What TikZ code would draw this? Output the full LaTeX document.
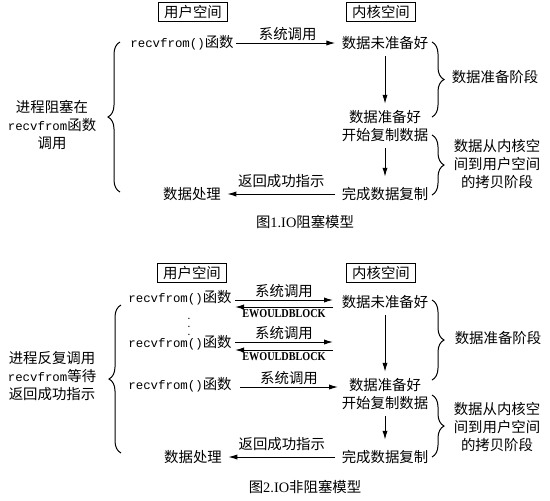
\documentclass[tikz,border=0pt]{standalone}
\usepackage{fontspec}
\usepackage{graphicx}
\setmainfont{Noto Sans CJK SC}
\setmonofont{Liberation Mono}
\newfontfamily\latinfont{Liberation Serif}
\usetikzlibrary{arrows.meta,decorations.pathreplacing}

\newcommand{\rf}{{\ttfamily\fontsize{6.2}{9}\selectfont recvfrom()}}
\newcommand{\rfname}{{\ttfamily\fontsize{6.2}{9}\selectfont recvfrom}}
\newcommand{\ewb}{{\latinfont\bfseries\fontsize{6}{9}\selectfont\scalebox{0.85}[1]{EWOULDBLOCK}}}

\begin{document}
\begin{tikzpicture}[
  x=0.5pt, y=-0.5pt,
  every node/.style={font=\fontsize{7.2}{9}\selectfont, inner sep=1pt},
  space/.style={draw, inner xsep=3pt, inner ysep=1.5pt},
  lbl/.style={align=center},
  brc/.style={decorate, decoration={brace, amplitude=6pt}},
  >={Latex[length=4.5pt,width=2.6pt]},
  line width=0.5pt
]
\useasboundingbox (0,0) rectangle (550,500);

% Fig 1: blocking
\node[space] (us1) at (193,12) {用户空间};
\node[space] (ks1) at (381,12) {内核空间};
\node (rf1) at (182,43) {\rf 函数};
\node (k11) at (385,43) {数据未准备好};
\node[lbl] (k12) at (385,126) {数据准备好\\开始复制数据};
\node (k13) at (385,194) {完成数据复制};
\node (dp1) at (192,194) {数据处理};
\node[lbl] (blk1) at (52,125) {进程阻塞在\\\rfname 函数\\调用};
\node[lbl] (ph11) at (495,77) {数据准备阶段};
\node[lbl] (ph12) at (497,164) {数据从内核空\\间到用户空间\\的拷贝阶段};
\node (cap1) at (305,222) {图{\latinfont 1.IO}阻塞模型};

\draw[->, shorten >=2pt] (rf1) -- node[above] (call1) {系统调用} (k11);
\draw[->, shorten <=2pt, shorten >=2pt] (k11) -- (k12);
\draw[->, shorten <=2pt, shorten >=4pt] (k12) -- (k13);
\draw[->, shorten <=2pt, shorten >=2pt] (k13) -- node[above=2pt] (ret1) {返回成功指示} (dp1);

\draw[brc] (120,192) -- (120,42);
\draw[brc] (432,42) -- (432,117);
\draw[brc] (432,135) -- (432,195);

% Fig 2: non-blocking
\node[space] (us2) at (192,273) {用户空间};
\node[space] (ks2) at (381,273) {内核空间};
\node (rf21) at (180,298) {\rf 函数};
\node[inner sep=0pt, font=\fontsize{5}{5}\selectfont] (dots) at (189,321) {$\vdots$};
\node (rf22) at (180,343) {\rf 函数};
\node (rf23) at (180,385) {\rf 函数};
\node (dp2) at (193,457) {数据处理};
\node (k21) at (385,302) {数据未准备好};
\node[lbl] (k22) at (385,394) {数据准备好\\开始复制数据};
\node (k23) at (385,457) {完成数据复制};
\node[lbl] (blk2) at (52,376) {进程反复调用\\\rfname 等待\\返回成功指示};
\node[lbl] (ph21) at (498,338) {数据准备阶段};
\node[lbl] (ph22) at (497,427) {数据从内核空\\间到用户空间\\的拷贝阶段};
\node (cap2) at (305,487) {图{\latinfont 2.IO}非阻塞模型};

\coordinate (a1) at (235,300);
\coordinate (b1) at (333,300);
\coordinate (a1r) at (235,307);
\coordinate (b1r) at (333,307);
\coordinate (a2) at (235,342);
\coordinate (b2) at (333,342);
\coordinate (a2r) at (235,350);
\coordinate (b2r) at (333,350);
\coordinate (a3) at (240,387);
\coordinate (b3) at (338,387);

\draw[->] (a1) -- node[above] (call21) {系统调用} (b1);
\draw[->] (b1r) -- node[below] (ew1) {\ewb} (a1r);
\draw[->] (a2) -- node[above] (call22) {系统调用} (b2);
\draw[->] (b2r) -- node[below] (ew2) {\ewb} (a2r);
\draw[->] (a3) -- node[above] (call23) {系统调用} (b3);
\draw[->, shorten <=2pt, shorten >=2pt] (k21) -- (k22);
\draw[->, shorten <=2pt, shorten >=4pt] (k22) -- (k23);
\draw[->, shorten <=2pt, shorten >=2pt] (k23) -- node[above=2pt] (ret2) {返回成功指示} (dp2);

\draw[brc] (121,453) -- (121,305);
\draw[brc] (432,300) -- (432,380);
\draw[brc] (432,395) -- (432,457);
\end{tikzpicture}
\end{document}
